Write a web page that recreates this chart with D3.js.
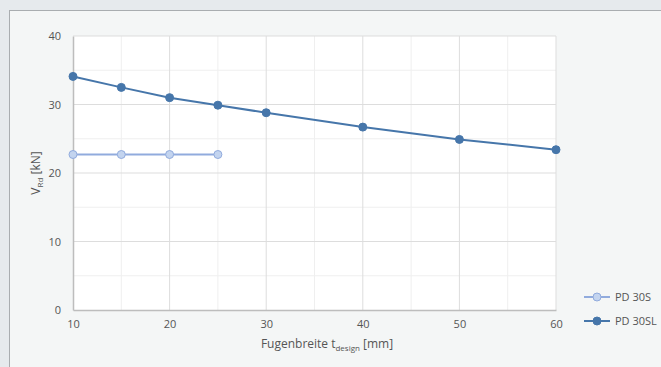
<!DOCTYPE html>
<html>
<head>
<meta charset="utf-8">
<script src="https://cdn.jsdelivr.net/npm/d3@7"></script>
<style>
  body { margin: 0; background: #e6eaed; }
  svg { display: block; font-family: "Open Sans", sans-serif; }
</style>
</head>
<body>
<svg id="chart" width="661" height="367"></svg>
<script>
var seriesNames = ["PD 30S", "PD 30SL"];
var xS = [10, 15, 20, 25];
var yS = [22.7, 22.7, 22.7, 22.7];
var xSL = [10, 15, 20, 25, 30, 40, 50, 60];
var ySL = [34.1, 32.5, 31.0, 29.9, 28.8, 26.7, 24.9, 23.4];
var xTicks = [10, 20, 30, 40, 50, 60];
var yTicks = [0, 10, 20, 30, 40];

var svg = d3.select("#chart"),
    margin = {top: 36, left: 73},
    width = 483,
    height = 274;

// panel
svg.append("rect")
    .attr("x", 9.5).attr("y", 10.5)
    .attr("width", 700).attr("height", 400)
    .attr("fill", "#f4f6f6")
    .attr("stroke", "#a9adb0");

var x = d3.scaleLinear().domain([10, 60]).range([0, width]);
var y = d3.scaleLinear().domain([0, 40]).range([height, 0]);

var g = svg.append("g")
    .attr("transform", "translate(" + margin.left + "," + margin.top + ")");

g.append("rect").attr("width", width).attr("height", height).attr("fill", "#fff");

// minor grid
g.selectAll(".vminor").data(d3.range(15, 60, 10)).enter().append("line")
    .attr("x1", x).attr("x2", x).attr("y1", 0).attr("y2", height)
    .attr("stroke", "#efefef");
g.selectAll(".hminor").data(d3.range(5, 40, 10)).enter().append("line")
    .attr("y1", y).attr("y2", y).attr("x1", 0).attr("x2", width)
    .attr("stroke", "#efefef");
// major grid
g.selectAll(".vmajor").data(xTicks.slice(1)).enter().append("line")
    .attr("x1", x).attr("x2", x).attr("y1", 0).attr("y2", height)
    .attr("stroke", "#dddddd");
g.selectAll(".hmajor").data(yTicks.slice(1)).enter().append("line")
    .attr("y1", y).attr("y2", y).attr("x1", 0).attr("x2", width)
    .attr("stroke", "#dddddd");

// axes
var xAxis = g.append("g")
    .attr("transform", "translate(0," + height + ")")
    .call(d3.axisBottom(x).tickValues(xTicks).tickSize(0).tickPadding(10));
var yAxis = g.append("g")
    .call(d3.axisLeft(y).tickValues(yTicks).tickSize(0).tickPadding(12));
[xAxis, yAxis].forEach(function(a) {
  a.select(".domain").attr("stroke", "#bdbdbd").attr("stroke-width", 1.5);
  a.selectAll("text").attr("fill", "#555").style("font-size", "11px").style("font-family", "Open Sans, sans-serif");
});

// series
var dataS = xS.map(function(d, i) { return {x: d, y: yS[i]}; });
var dataSL = xSL.map(function(d, i) { return {x: d, y: ySL[i]}; });
var line = d3.line().x(function(d) { return x(d.x); }).y(function(d) { return y(d.y); });

var styles = [
  {data: dataS, stroke: "#91abdd", fill: "#c3d4ef"},
  {data: dataSL, stroke: "#4676aa", fill: "#4676aa"}
];
styles.forEach(function(s) {
  g.append("path").datum(s.data).attr("d", line)
      .attr("fill", "none").attr("stroke", s.stroke).attr("stroke-width", 2);
  g.selectAll(null).data(s.data).enter().append("circle")
      .attr("cx", function(d) { return x(d.x); })
      .attr("cy", function(d) { return y(d.y); })
      .attr("r", 4)
      .attr("fill", s.fill).attr("stroke", s.stroke).attr("stroke-width", 1);
});

// axis titles
var xt = svg.append("text").attr("x", 327).attr("y", 348)
    .attr("text-anchor", "middle").attr("fill", "#555").style("font-size", "12px");
xt.append("tspan").text("Fugenbreite t");
xt.append("tspan").attr("dy", 3).style("font-size", "8px").text("design");
xt.append("tspan").attr("dy", -3).text("\u00a0[mm]");

var yt = svg.append("text").attr("transform", "translate(40,173) rotate(-90)")
    .attr("text-anchor", "middle").attr("fill", "#555").style("font-size", "12px");
yt.append("tspan").text("V");
yt.append("tspan").attr("dy", 3).style("font-size", "8px").text("Rd");
yt.append("tspan").attr("dy", -3).text("\u00a0[kN]");

// legend
var leg = svg.selectAll(".leg").data(styles).enter().append("g")
    .attr("transform", function(d, i) { return "translate(584," + (297 + i * 24) + ")"; });
leg.append("line").attr("x1", 0).attr("x2", 26)
    .attr("stroke", function(d) { return d.stroke; }).attr("stroke-width", 2);
leg.append("circle").attr("cx", 13).attr("r", 4)
    .attr("fill", function(d) { return d.fill; })
    .attr("stroke", function(d) { return d.stroke; });
leg.append("text").attr("x", 31).attr("dy", "0.35em")
    .attr("fill", "#555").style("font-size", "11px")
    .text(function(d, i) { return seriesNames[i]; });
</script>
</body>
</html>
